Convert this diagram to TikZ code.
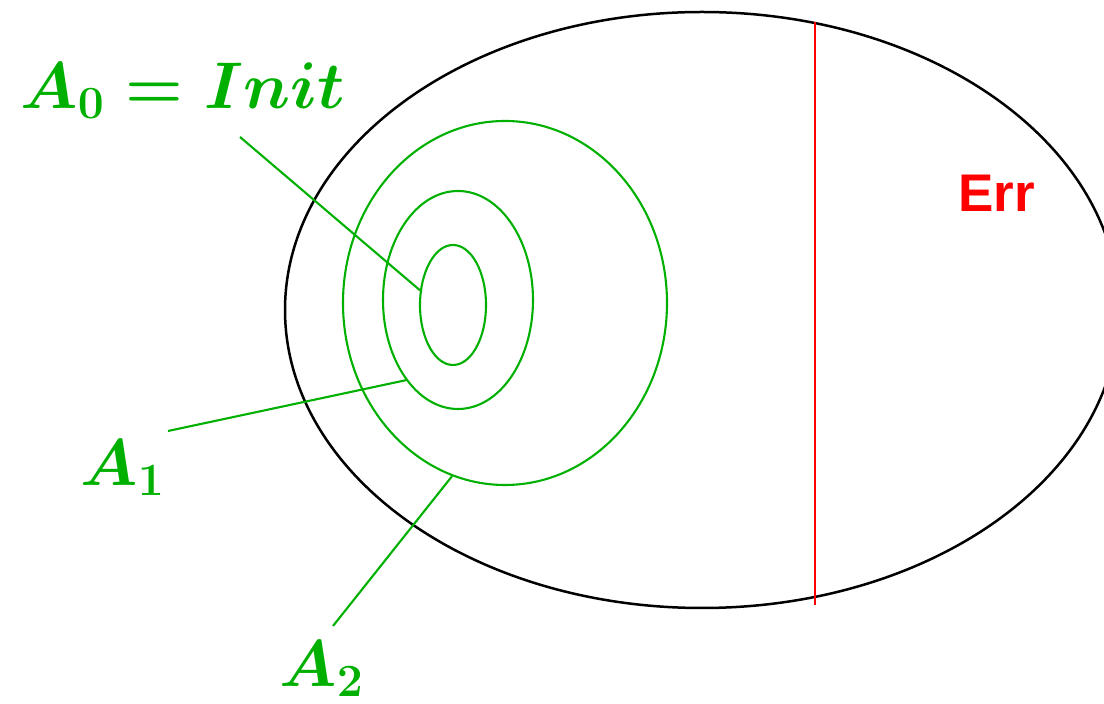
\documentclass[tikz,border=0pt]{standalone}
\usepackage{fix-cm}
\usepackage[no-math]{fontspec}
\setsansfont{Liberation Sans}
\usetikzlibrary{shapes.geometric}
\definecolor{setgreen}{RGB}{0,176,0}
\definecolor{errred}{RGB}{255,0,0}
\tikzset{
  space/.style={ellipse, draw=black, line width=1.25pt, inner sep=0pt},
  region/.style={ellipse, draw=setgreen, line width=1.05pt, inner sep=0pt},
  setlbl/.style={text=setgreen, font=\fontsize{33}{40}\selectfont\boldmath,
                 inner sep=0pt, anchor=base west},
  errlbl/.style={text=errred, font=\sffamily\bfseries\fontsize{26.5}{32}\selectfont,
                 inner sep=0pt, anchor=base west},
  pointer/.style={draw=setgreen, line width=1.05pt},
  cut/.style={draw=errred, line width=1.05pt},
}

\begin{document}
\begin{tikzpicture}[x=0.5pt, y=-0.5pt]
  \clip (0,0) rectangle (1104,704);
  \node[space, minimum width=417pt, minimum height=298pt] (states) at (702,310) {};
  \node[region, minimum width=33pt, minimum height=60pt]   (a0) at (453,305) {};
  \node[region, minimum width=75pt, minimum height=109pt]  (a1) at (458,300) {};
  \node[region, minimum width=162pt, minimum height=182pt] (a2) at (505,303) {};
  \node[setlbl] (init) at (20,109)  {$A_0 = Init$};
  \node[setlbl] (l1)   at (80,486)  {$A_1$};
  \node[setlbl] (l2)   at (279,687) {$A_2$};
  \node[errlbl] (err)  at (958,212) {Err};
  \coordinate (p0) at (240,137);
  \coordinate (p1) at (168,431);
  \coordinate (p2) at (333,626);
  \draw[pointer] (p0) -- (a0.156);
  \draw[pointer] (p1) -- (a1.237);
  \draw[pointer] (p2) -- (a2.253);
  \coordinate (cuttop) at (815,22);
  \coordinate (cutbot) at (815,605);
  \draw[cut] (cuttop) -- (cutbot);
\end{tikzpicture}
\end{document}
